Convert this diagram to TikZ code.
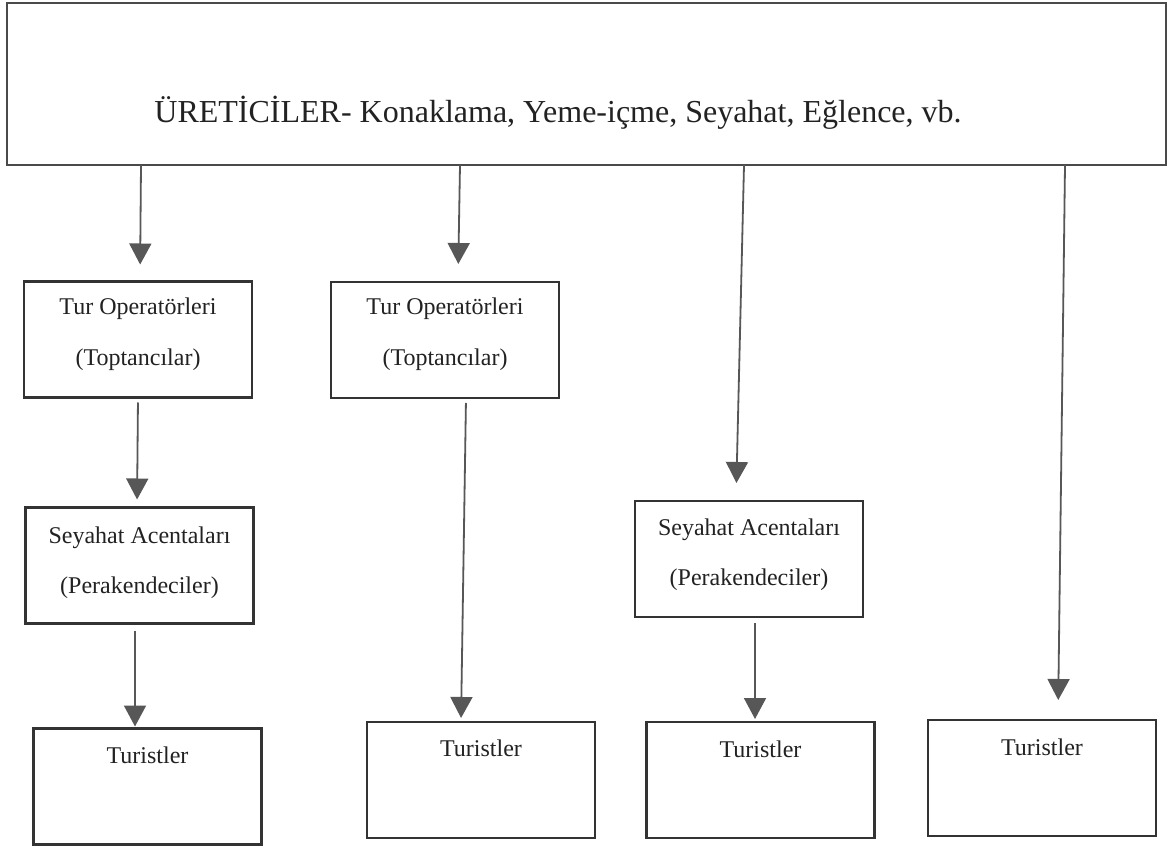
\documentclass[tikz,border=0pt]{standalone}
\usepackage{fontspec}
\setmainfont{Liberation Serif}
\usetikzlibrary{arrows.meta}
\definecolor{boxline}{HTML}{333333}
\definecolor{headline}{HTML}{4a4a4a}
\definecolor{arrowgray}{HTML}{575757}
\definecolor{ink}{HTML}{222222}
\begin{document}
\begin{tikzpicture}[x=0.5pt,y=-0.5pt,
  every node/.style={inner sep=0pt, outer sep=0pt},
  unit/.style={draw=boxline, line width=1.4pt, minimum width=114pt, minimum height=58pt},
  head/.style={draw=headline, line width=1.1pt, minimum width=579.5pt, minimum height=81pt},
  lbl/.style={anchor=base, text=ink, font=\fontsize{12pt}{14pt}\selectfont},
  title/.style={anchor=base, text=ink, font=\fontsize{16pt}{19pt}\selectfont},
  flow/.style={draw=arrowgray, line width=0.9pt, -{Triangle[width=11pt,length=10.5pt]}}
]
\fill[white] (0,0) rectangle (1171,849);
\useasboundingbox (0,0) rectangle (1171,849);

% producers
\node[head] (prod) at (586.5,84) {};
\node[title] (prodtext) at (558,123) {ÜRETİCİLER- Konaklama, Yeme-içme, Seyahat, Eğlence, vb.};

% intermediaries and end customers
\node[unit] (op1) at (138,339.5) {};
\node[unit] (op2) at (445,340) {};
\node[unit] (sa1) at (139.5,565.5) {};
\node[unit] (sa2) at (749,559) {};
\node[unit] (tr1) at (147.5,786.5) {};
\node[unit] (tr2) at (481,780) {};
\node[unit] (tr3) at (760.5,780) {};
\node[unit] (tr4) at (1042,778) {};

\node[lbl] (op1a) at (op1.center |- 0,315) {Tur Operatörleri};
\node[lbl] (op1b) at (op1.center |- 0,366) {(Toptancılar)};
\node[lbl] (op2a) at (op2.center |- 0,315) {Tur Operatörleri};
\node[lbl] (op2b) at (op2.center |- 0,366) {(Toptancılar)};
\node[lbl] (sa1a) at (sa1.center |- 0,543) {Seyahat Acentaları};
\node[lbl] (sa1b) at (sa1.center |- 0,593) {(Perakendeciler)};
\node[lbl] (sa2a) at (sa2.center |- 0,535) {Seyahat Acentaları};
\node[lbl] (sa2b) at (sa2.center |- 0,585) {(Perakendeciler)};
\node[lbl] (tr1a) at (tr1.center |- 0,763) {Turistler};
\node[lbl] (tr2a) at (tr2.center |- 0,756) {Turistler};
\node[lbl] (tr3a) at (tr3.center |- 0,757) {Turistler};
\node[lbl] (tr4a) at (tr4.center |- 0,755) {Turistler};

% distribution channels
\draw[flow, shorten >=8.5pt] (prod.south -| 141,0) -- (op1.north -| 140,0);
\draw[flow, shorten >=9pt] (prod.south -| 460,0) -- (op2.north -| 458,0);
\draw[flow, shorten >=9pt] (prod.south -| 744,0) -- (sa2.north -| 736,0);
\draw[flow, shorten >=10pt] (prod.south -| 1065,0) -- (tr4.north -| 1058,0);
\draw[flow, shorten <=2.5pt, shorten >=4pt] (op1.south -| 138,0) -- (sa1.north -| 137,0);
\draw[flow, shorten <=2.5pt, shorten >=2pt] (op2.south -| 466,0) -- (tr2.north -| 461,0);
\draw[flow, shorten <=3.5pt, shorten >=1pt] (sa1.south -| 135,0) -- (tr1.north -| 135,0);
\draw[flow, shorten <=3pt, shorten >=1.5pt] (sa2.south -| 755,0) -- (tr3.north -| 755,0);
\end{tikzpicture}
\end{document}
